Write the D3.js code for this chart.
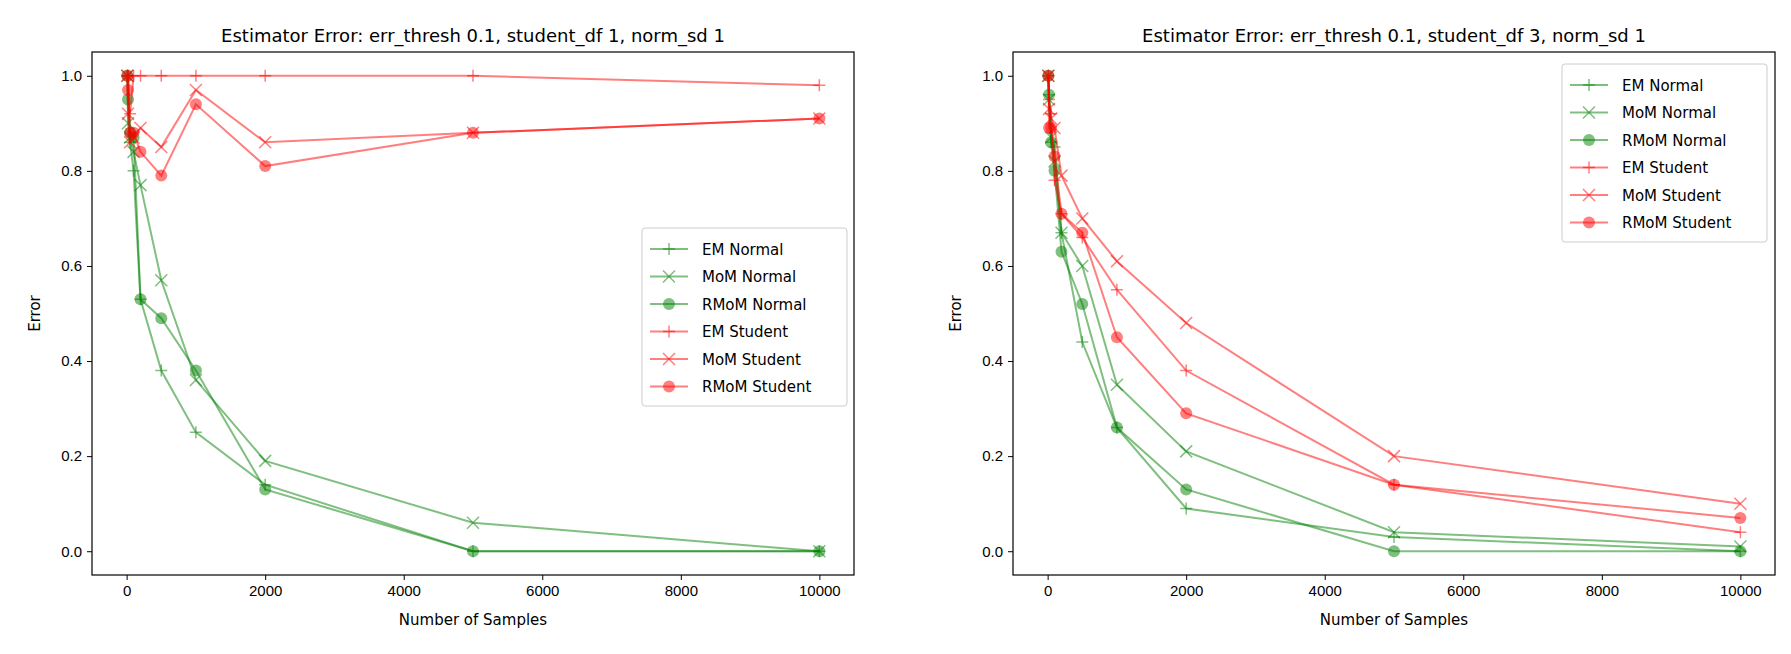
<!DOCTYPE html>
<html>
<head>
  <script src="https://d3js.org/d3.v7.min.js"></script>
  <style>body{margin:0;background:#fff}</style>
</head>
<body>
  <svg id="chart"></svg>
  <script>
    // Data
    const samples = [10, 20, 50, 100, 200, 500, 1000, 2000, 5000, 10000];
    const seriesNames = ["EM Normal", "MoM Normal", "RMoM Normal", "EM Student", "MoM Student", "RMoM Student"];
    const titles = [
      "Estimator Error: err_thresh 0.1, student_df 1, norm_sd 1",
      "Estimator Error: err_thresh 0.1, student_df 3, norm_sd 1"
    ];
    const xTicks = [0, 2000, 4000, 6000, 8000, 10000];
    const yTicks = [0, 0.2, 0.4, 0.6, 0.8, 1.0];

    const df1 = [
      [1.0, 1.0, 0.86, 0.80, 0.53, 0.38, 0.25, 0.14, 0.0, 0.0],
      [1.0, 0.90, 0.87, 0.84, 0.77, 0.57, 0.36, 0.19, 0.06, 0.0],
      [1.0, 0.95, 0.88, 0.87, 0.53, 0.49, 0.38, 0.13, 0.0, 0.0],
      [1.0, 1.0, 0.92, 1.0, 1.0, 1.0, 1.0, 1.0, 1.0, 0.98],
      [1.0, 0.92, 0.86, 0.87, 0.89, 0.85, 0.97, 0.86, 0.88, 0.91],
      [1.0, 0.97, 0.88, 0.88, 0.84, 0.79, 0.94, 0.81, 0.88, 0.91]
    ];
    const df3 = [
      [1.0, 0.96, 0.86, 0.85, 0.67, 0.44, 0.26, 0.09, 0.03, 0.0],
      [1.0, 0.95, 0.87, 0.82, 0.67, 0.60, 0.35, 0.21, 0.04, 0.01],
      [1.0, 0.96, 0.86, 0.80, 0.63, 0.52, 0.26, 0.13, 0.0, 0.0],
      [1.0, 0.95, 0.92, 0.78, 0.71, 0.66, 0.55, 0.38, 0.14, 0.04],
      [1.0, 0.93, 0.91, 0.89, 0.79, 0.70, 0.61, 0.48, 0.20, 0.10],
      [1.0, 0.89, 0.89, 0.83, 0.71, 0.67, 0.45, 0.29, 0.14, 0.07]
    ];

    const colors = ["green", "green", "green", "red", "red", "red"];
    const markers = ["plus", "x", "circle", "plus", "x", "circle"];

    const svg = d3.select("#chart").attr("width", 1791).attr("height", 654)
      .style("font-family", "DejaVu Sans, sans-serif");

    function drawMarker(g, type, color) {
      if (type === "circle") {
        g.append("circle").attr("r", 6).attr("fill", color).attr("fill-opacity", 0.5);
      } else if (type === "plus") {
        g.append("path").attr("d", "M-6,0H6M0,-6V6").attr("stroke", color)
          .attr("stroke-opacity", 0.5).attr("stroke-width", 1.5);
      } else {
        g.append("path").attr("d", "M-6,-6L6,6M-6,6L6,-6").attr("stroke", color)
          .attr("stroke-opacity", 0.5).attr("stroke-width", 1.5);
      }
    }

    function panel(left, data, title, legendPos) {
      const top = 52, bottom = 575, right = left + 762;
      const x = d3.scaleLinear().domain([-500, 10500]).range([left, right]);
      const y = d3.scaleLinear().domain([-0.05, 1.05]).range([bottom, top]);
      const g = svg.append("g");

      g.append("g").attr("transform", `translate(0,${bottom})`)
        .call(d3.axisBottom(x).tickValues(xTicks).tickFormat(d3.format("d")).tickSize(5).tickPadding(5))
        .call(a => a.selectAll("text").attr("font-size", 15).attr("fill", "#000"));
      g.append("g").attr("transform", `translate(${left},0)`)
        .call(d3.axisLeft(y).tickValues(yTicks).tickFormat(d3.format(".1f")).tickSize(5).tickPadding(5))
        .call(a => a.selectAll("text").attr("font-size", 15).attr("fill", "#000"));
      g.selectAll(".domain").remove();
      g.append("rect").attr("x", left).attr("y", top).attr("width", right - left)
        .attr("height", bottom - top).attr("fill", "none").attr("stroke", "#000").attr("stroke-width", 1.2);

      const line = d3.line().x((d, i) => x(samples[i])).y(d => y(d));
      data.forEach((vals, s) => {
        g.append("path").attr("d", line(vals)).attr("fill", "none")
          .attr("stroke", colors[s]).attr("stroke-opacity", 0.5).attr("stroke-width", 2);
        vals.forEach((v, i) => {
          drawMarker(g.append("g").attr("transform", `translate(${x(samples[i])},${y(v)})`), markers[s], colors[s]);
        });
      });

      g.append("text").attr("x", (left + right) / 2).attr("y", top - 10)
        .attr("text-anchor", "middle").attr("font-size", 18).text(title);
      g.append("text").attr("x", (left + right) / 2).attr("y", bottom + 50)
        .attr("text-anchor", "middle").attr("font-size", 15).text("Number of Samples");
      g.append("text").attr("transform", `translate(${left - 52},${(top + bottom) / 2}) rotate(-90)`)
        .attr("text-anchor", "middle").attr("font-size", 15).text("Error");

      // Legend
      const lg = g.append("g").attr("transform", `translate(${legendPos[0]},${legendPos[1]})`);
      lg.append("rect").attr("width", 205).attr("height", 178).attr("rx", 3)
        .attr("fill", "#fff").attr("fill-opacity", 0.8).attr("stroke", "#ccc");
      seriesNames.forEach((n, s) => {
        const row = lg.append("g").attr("transform", `translate(0,${21 + s * 27.5})`);
        row.append("line").attr("x1", 8).attr("x2", 46).attr("stroke", colors[s])
          .attr("stroke-opacity", 0.5).attr("stroke-width", 2);
        drawMarker(row.append("g").attr("transform", "translate(27,0)"), markers[s], colors[s]);
        row.append("text").attr("x", 60).attr("y", 5.5).attr("font-size", 15).text(n);
      });
    }

    panel(92, df1, titles[0], [642, 228]);
    panel(1013, df3, titles[1], [1562, 64]);
  </script>
</body>
</html>
